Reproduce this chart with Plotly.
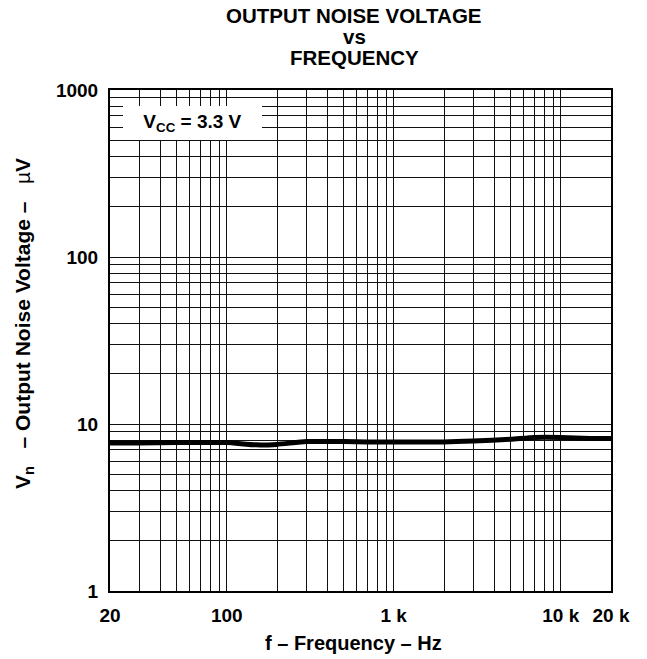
import plotly.graph_objects as go

# data
freq_hz = [20, 30, 50, 70, 100, 150, 200, 300, 500, 700, 1000, 2000, 3000, 5000, 7000, 10000, 15000, 20000]
vn_uv = [7.7, 7.7, 7.75, 7.75, 7.75, 7.5, 7.55, 7.85, 7.85, 7.8, 7.8, 7.8, 7.9, 8.1, 8.3, 8.3, 8.2, 8.2]

x_label_vals = [20, 100, 1000, 10000, 20000]
x_label_text = ["20", "100", "1 k", "10 k", "20 k"]
y_label_vals = [1, 10, 100, 1000]
y_label_text = ["1", "10", "100", "1000"]

x_grid = [m * d for d in (10, 100, 1000) for m in range(1, 10)] + [10000, 20000]
x_grid = [v for v in x_grid if v >= 20]
y_grid = [m * d for d in (1, 10, 100) for m in range(1, 10)] + [1000]

x_ticktext = [f"<b>{x_label_text[x_label_vals.index(v)]}</b>" if v in x_label_vals else "" for v in x_grid]
y_ticktext = [f"<b>{y_label_text[y_label_vals.index(v)]}</b>" if v in y_label_vals else "" for v in y_grid]

FONT = "Liberation Sans, Arial, Helvetica, sans-serif"

fig = go.Figure()
fig.add_trace(go.Scatter(x=freq_hz, y=vn_uv, mode="lines",
                         line=dict(color="black", width=5, shape="spline", smoothing=0.6),
                         showlegend=False, hoverinfo="skip"))

fig.update_layout(
    width=647, height=659,
    margin=dict(l=110, r=36, t=90, b=68),
    paper_bgcolor="white", plot_bgcolor="white",
    font=dict(family=FONT, color="black"),
    showlegend=False,
)

fig.update_xaxes(
    type="log", range=[1.30103, 4.30103], automargin=False,
    tickmode="array", tickvals=x_grid, ticktext=x_ticktext,
    ticks="", showgrid=True, gridcolor="#111", gridwidth=1,
    showline=True, linecolor="black", linewidth=2, mirror=True,
    tickfont=dict(size=19, family=FONT, color="black"),
    ticklabelstandoff=6,
    zeroline=False,
)
fig.update_yaxes(
    type="log", range=[0, 3], automargin=False,
    tickmode="array", tickvals=y_grid, ticktext=y_ticktext,
    ticks="", showgrid=True, gridcolor="#111", gridwidth=1,
    showline=True, linecolor="black", linewidth=2, mirror=True,
    tickfont=dict(size=19, family=FONT, color="black"),
    ticklabelstandoff=6,
    zeroline=False,
)

# axis titles
fig.add_annotation(text="<b>f – Frequency – Hz</b>", xref="paper", yref="paper",
                   x=(353 - 110) / 501, y=(591 - 643) / 501,
                   xanchor="center", yanchor="middle", showarrow=False,
                   font=dict(size=20, family=FONT, color="black"))
fig.add_annotation(text="<b>V<sub>n</sub>   – Output Noise Voltage –  </b> µ<b>V</b>",
                   xref="paper", yref="paper", textangle=-90,
                   x=(24 - 110) / 501, y=(591 - 324) / 501,
                   xanchor="center", yanchor="middle", showarrow=False,
                   font=dict(size=21, family=FONT, color="black"))

# title lines
for txt, py in (("OUTPUT NOISE VOLTAGE", 15), ("vs", 36), ("FREQUENCY", 57)):
    fig.add_annotation(text=f"<b>{txt}</b>", xref="paper", yref="paper",
                       x=(354 - 110) / 501, y=(591 - py) / 501,
                       xanchor="center", yanchor="middle", showarrow=False,
                       font=dict(size=20.5, family=FONT, color="black"))

# condition label box
fig.add_annotation(text="<b>V<sub>CC</sub> = 3.3 V</b>", xref="paper", yref="paper",
                   x=(192.5 - 110) / 501, y=(591 - 123) / 501,
                   xanchor="center", yanchor="middle", showarrow=False,
                   width=139, height=34, bgcolor="white", borderpad=0, borderwidth=0,
                   font=dict(size=19, family=FONT, color="black"))

fig.write_html("out.html", config={"displayModeBar": False},
               post_script="document.body.style.margin='0';")
